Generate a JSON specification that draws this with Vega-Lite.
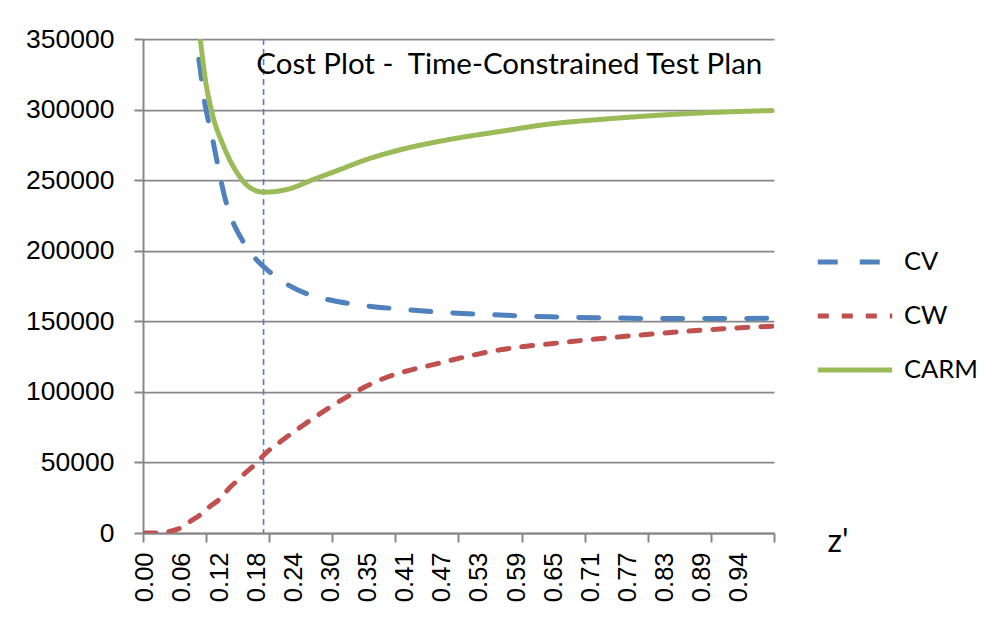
{
  "$schema": "https://vega.github.io/schema/vega-lite/v6.json",
  "autosize": "none",
  "width": 631,
  "height": 494,
  "padding": {"left": 143, "top": 39, "right": 232, "bottom": 90},
  "background": "white",
  "config": {
    "view": {"stroke": null},
    "legend": {
      "orient": "none",
      "legendX": 672,
      "legendY": 183,
      "title": null,
      "symbolType": "stroke",
      "symbolSize": 5550,
      "labelFont": "Lato",
      "labelFontSize": 25.5,
      "labelColor": "black",
      "labelOffset": 9,
      "rowPadding": 0
    }
  },
  "resolve": {"scale": {"x": "shared"}, "axis": {"x": "independent"}},
  "layer": [
    {
      "data": {"values": [{}]},
      "mark": {"type": "rule", "color": "#4F81BD", "strokeWidth": 1.6, "strokeDash": [6, 4]},
      "encoding": {
        "x": {
          "datum": 0.1888,
          "type": "quantitative",
          "axis": {
            "orient": "bottom",
            "values": [-0.0029515, 0.0974, 0.19775, 0.2981, 0.39845, 0.4988, 0.59915, 0.69951, 0.79986, 0.90021, 1.00056],
            "labels": false,
            "domain": false,
            "grid": false,
            "ticks": true,
            "tickColor": "#878787",
            "tickWidth": 2,
            "tickSize": 9,
            "title": null
          }
        }
      }
    },
    {
      "data": {
        "values": [
          {"z": 0.0, "series": "CW", "cost": 0},
          {"z": 0.02, "series": "CW", "cost": 0},
          {"z": 0.0351, "series": "CW", "cost": 700},
          {"z": 0.059, "series": "CW", "cost": 4200},
          {"z": 0.0695, "series": "CW", "cost": 7500},
          {"z": 0.0908, "series": "CW", "cost": 13800},
          {"z": 0.1013, "series": "CW", "cost": 18000},
          {"z": 0.1226, "series": "CW", "cost": 25600},
          {"z": 0.1306, "series": "CW", "cost": 30000},
          {"z": 0.149, "series": "CW", "cost": 38000},
          {"z": 0.1597, "series": "CW", "cost": 42500},
          {"z": 0.1808, "series": "CW", "cost": 51000},
          {"z": 0.1888, "series": "CW", "cost": 55000},
          {"z": 0.2153, "series": "CW", "cost": 64600},
          {"z": 0.226, "series": "CW", "cost": 68200},
          {"z": 0.2524, "series": "CW", "cost": 76500},
          {"z": 0.2948, "series": "CW", "cost": 89300},
          {"z": 0.3744, "series": "CW", "cost": 108500},
          {"z": 0.4698, "series": "CW", "cost": 120500},
          {"z": 0.5652, "series": "CW", "cost": 129800},
          {"z": 0.6606, "series": "CW", "cost": 134800},
          {"z": 0.756, "series": "CW", "cost": 139000},
          {"z": 0.8514, "series": "CW", "cost": 142600},
          {"z": 0.9468, "series": "CW", "cost": 145400},
          {"z": 0.9976, "series": "CW", "cost": 146500},

          {"z": 0.0754, "series": "CV", "cost": 365000},
          {"z": 0.0829, "series": "CV", "cost": 344000},
          {"z": 0.0881, "series": "CV", "cost": 328600},
          {"z": 0.0934, "series": "CV", "cost": 309700},
          {"z": 0.0988, "series": "CV", "cost": 296700},
          {"z": 0.1067, "series": "CV", "cost": 281300},
          {"z": 0.1172, "series": "CV", "cost": 258000},
          {"z": 0.1279, "series": "CV", "cost": 236500},
          {"z": 0.1385, "series": "CV", "cost": 222100},
          {"z": 0.1544, "series": "CV", "cost": 207900},
          {"z": 0.1758, "series": "CV", "cost": 194500},
          {"z": 0.1942, "series": "CV", "cost": 186600},
          {"z": 0.2233, "series": "CV", "cost": 177000},
          {"z": 0.2578, "series": "CV", "cost": 169500},
          {"z": 0.2896, "series": "CV", "cost": 165500},
          {"z": 0.3267, "series": "CV", "cost": 162500},
          {"z": 0.4062, "series": "CV", "cost": 158600},
          {"z": 0.4857, "series": "CV", "cost": 156000},
          {"z": 0.5652, "series": "CV", "cost": 154400},
          {"z": 0.6447, "series": "CV", "cost": 153200},
          {"z": 0.7242, "series": "CV", "cost": 152500},
          {"z": 0.8037, "series": "CV", "cost": 152000},
          {"z": 0.8832, "series": "CV", "cost": 151900},
          {"z": 0.9976, "series": "CV", "cost": 152100},

          {"z": 0.0802, "series": "CARM", "cost": 378000},
          {"z": 0.0881, "series": "CARM", "cost": 349900},
          {"z": 0.0961, "series": "CARM", "cost": 321500},
          {"z": 0.1067, "series": "CARM", "cost": 298000},
          {"z": 0.1252, "series": "CARM", "cost": 274100},
          {"z": 0.1465, "series": "CARM", "cost": 255300},
          {"z": 0.1676, "series": "CARM", "cost": 244600},
          {"z": 0.1888, "series": "CARM", "cost": 241500},
          {"z": 0.226, "series": "CARM", "cost": 243400},
          {"z": 0.2683, "series": "CARM", "cost": 250500},
          {"z": 0.3107, "series": "CARM", "cost": 257600},
          {"z": 0.3532, "series": "CARM", "cost": 264700},
          {"z": 0.4062, "series": "CARM", "cost": 271500},
          {"z": 0.4857, "series": "CARM", "cost": 278900},
          {"z": 0.5652, "series": "CARM", "cost": 284500},
          {"z": 0.6447, "series": "CARM", "cost": 289800},
          {"z": 0.7242, "series": "CARM", "cost": 293000},
          {"z": 0.8037, "series": "CARM", "cost": 295600},
          {"z": 0.8832, "series": "CARM", "cost": 297600},
          {"z": 0.9976, "series": "CARM", "cost": 299300}
        ]
      },
      "mark": {"type": "line", "interpolate": "monotone", "strokeCap": "round", "clip": true},
      "encoding": {
        "x": {
          "field": "z",
          "type": "quantitative",
          "scale": {"domain": [-0.0029515, 1.00056], "nice": false, "zero": false},
          "axis": {
            "orient": "bottom",
            "values": [0, 0.05903, 0.11806, 0.17709, 0.23612, 0.29515, 0.35418, 0.41321, 0.47224, 0.53127, 0.5903, 0.64933, 0.70836, 0.76739, 0.82642, 0.88545, 0.94448],
            "format": ".2f",
            "grid": false,
            "domainColor": "#878787",
            "domainWidth": 2,
            "ticks": false,
            "tickSize": 0,
            "labelAngle": 270,
            "labelAlign": "right",
            "labelBaseline": "middle",
            "labelPadding": 19,
            "labelFont": "Liberation Sans",
            "labelFontSize": 25.5,
            "labelColor": "black",
            "labelOverlap": false,
            "labelBound": false,
            "labelFlush": false,
            "title": "z'",
            "titleFont": "Lato",
            "titleFontSize": 32,
            "titleFontWeight": "normal",
            "titleColor": "black",
            "titleX": 684,
            "titleY": 8,
            "titleAlign": "left",
            "titleBaseline": "middle",
            "titleAngle": 0
          }
        },
        "y": {
          "field": "cost",
          "type": "quantitative",
          "scale": {"domain": [0, 350000], "nice": false},
          "axis": {
            "values": [0, 50000, 100000, 150000, 200000, 250000, 300000, 350000],
            "format": "d",
            "grid": true,
            "gridColor": "#878787",
            "gridWidth": 1.75,
            "domainColor": "#878787",
            "domainWidth": 2,
            "tickColor": "#878787",
            "tickWidth": 2,
            "tickSize": 9,
            "labelPadding": 20,
            "labelFont": "Liberation Sans",
            "labelFontSize": 26.5,
            "labelColor": "black",
            "title": null
          }
        },
        "color": {
          "field": "series",
          "type": "nominal",
          "scale": {"domain": ["CV", "CW", "CARM"], "range": ["#4F81BD", "#C0504D", "#9BBB59"]},
          "sort": ["CV", "CW", "CARM"]
        },
        "strokeDash": {
          "field": "series",
          "type": "nominal",
          "scale": {"domain": ["CV", "CW", "CARM"], "range": [[20, 22], [11, 13], [1, 0]]},
          "sort": ["CV", "CW", "CARM"]
        },
        "strokeWidth": {
          "field": "series",
          "type": "nominal",
          "scale": {"domain": ["CV", "CW", "CARM"], "range": [5, 5, 6]},
          "sort": ["CV", "CW", "CARM"]
        }
      }
    },
    {
      "data": {"values": [{}]},
      "mark": {"type": "text", "font": "Lato", "fontSize": 29.5, "align": "left", "baseline": "middle", "color": "black"},
      "encoding": {
        "x": {"datum": 0.1772, "type": "quantitative", "axis": null},
        "y": {"datum": 331500, "type": "quantitative"},
        "text": {"value": "Cost Plot -\u00a0 Time-Constrained Test Plan"}
      }
    }
  ]
}
